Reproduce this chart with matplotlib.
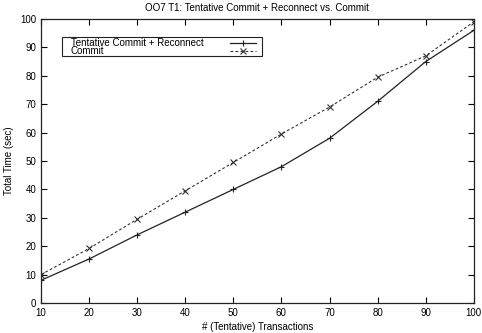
import matplotlib
matplotlib.use("Agg")
import matplotlib.pyplot as plt
from matplotlib.patches import Rectangle
from matplotlib.lines import Line2D

plt.rcParams['font.family'] = ['Liberation Sans', 'DejaVu Sans']

transactions = [10, 20, 30, 40, 50, 60, 70, 80, 90, 100]
tentative_reconnect = [8.0, 15.5, 24.0, 32.0, 40.0, 48.0, 58.0, 71.0, 85.0, 96.0]
commit = [10.0, 19.2, 29.5, 39.5, 49.5, 59.5, 69.0, 79.5, 87.0, 99.0]
series_names = ["Tentative Commit + Reconnect", "Commit"]

fs = 7
fig = plt.figure(figsize=(4.82, 3.33), dpi=100)
ax = fig.add_axes([0.085, 0.09, 0.898, 0.853])

styles = [dict(color="#222222", lw=0.9, ls="-", marker="+", ms=5, mew=0.8),
          dict(color="#333333", lw=0.8, ls=(0, (2.5, 2)), marker="x", ms=4, mew=0.8)]

ax.plot(transactions, tentative_reconnect, **styles[0])
ax.plot(transactions, commit, **styles[1])

ax.set_xlim(10, 100)
ax.set_ylim(0, 100)
ax.set_xticks(transactions)
ax.set_yticks(range(0, 101, 10))
ax.tick_params(direction="in", top=True, right=True, labelsize=fs, length=4, width=0.8)
for s in ax.spines.values():
    s.set_linewidth(0.9)
    s.set_color("#222222")

ax.set_title("OO7 T1: Tentative Commit + Reconnect vs. Commit", fontsize=fs, pad=6)
ax.set_xlabel("# (Tentative) Transactions", fontsize=fs, labelpad=3)
ax.set_ylabel("Total Time (sec)", fontsize=fs, labelpad=4)

# gnuplot style key: label left, sample on the right
ax.add_patch(Rectangle((0.0485, 0.870), 0.4615, 0.067, transform=ax.transAxes,
                       fill=False, edgecolor="#222222", lw=0.8, clip_on=False))
for i, (name, st) in enumerate(zip(series_names, styles)):
    yy = 0.917 - i * 0.031
    ax.text(0.069, yy, name, transform=ax.transAxes, fontsize=fs, va="center", ha="left")
    ax.add_line(Line2D([0.436, 0.497], [yy, yy], transform=ax.transAxes,
                       color=st["color"], lw=st["lw"], ls=st["ls"]))
    ax.add_line(Line2D([0.4665], [yy], transform=ax.transAxes, color=st["color"],
                       ls="none", marker=st["marker"], ms=st["ms"], mew=st["mew"]))

fig.savefig("out.png", dpi=100)
